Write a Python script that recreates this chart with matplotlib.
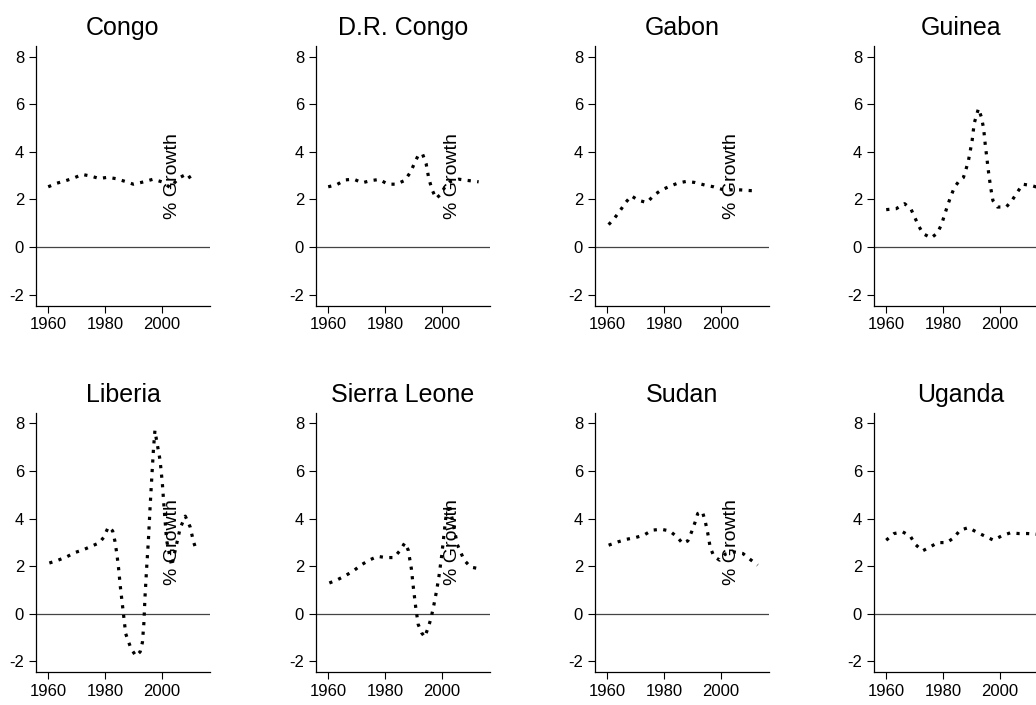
import matplotlib
matplotlib.use('Agg')
import matplotlib.pyplot as plt

plt.rcParams['font.family'] = ['Liberation Sans', 'DejaVu Sans']
plt.rcParams['axes.unicode_minus'] = False

# ------- Data -------
congo_years = [1960, 1963, 1966, 1969, 1972, 1975, 1978, 1981, 1984, 1987, 1990,
               1993, 1997, 2000, 2003, 2006, 2009, 2011]
congo_growth = [2.53, 2.68, 2.78, 2.9, 3.05, 2.98, 2.88, 2.93, 2.87, 2.76, 2.64,
                2.72, 2.85, 2.74, 2.5, 2.9, 3.08, 2.72]

drc_years = [1960, 1963, 1966, 1969, 1972, 1975, 1978, 1981, 1984, 1987, 1989,
             1990.5, 1991.7, 1993.2, 1994.5, 1995.4, 1996.6, 1998, 1999.5, 2001,
             2003, 2006, 2009, 2013]
drc_growth = [2.53, 2.62, 2.82, 2.85, 2.7, 2.79, 2.84, 2.64, 2.64, 2.8, 3.15,
              3.55, 3.85, 3.92, 3.5, 2.9, 2.4, 2.04, 2.2, 2.5,
              2.75, 2.85, 2.8, 2.74]

gabon_years = [1960.5, 1962.5, 1964.5, 1966.5, 1968.5, 1971, 1974, 1976.5, 1979,
               1982, 1985, 1988, 1991, 1994.5, 1997.5, 2000.5, 2004, 2007, 2010.5, 2013]
gabon_growth = [0.94, 1.2, 1.52, 1.87, 2.15, 1.96, 1.87, 2.18, 2.39,
                2.55, 2.69, 2.76, 2.71, 2.6, 2.53, 2.42, 2.4, 2.4, 2.37, 2.37]

guinea_years = [1960, 1963.5, 1966.5, 1968.7, 1970, 1971.5, 1973, 1975.8, 1978,
                1979.5, 1980.5, 1981.5, 1982.6, 1984, 1985.7, 1987.2, 1988.1, 1989,
                1989.7, 1990.3, 1991, 1992.5, 1993.5, 1994.3, 1994.9, 1995.5, 1996.1,
                1996.8, 1997.6, 1999.2, 2002.3, 2004.5, 2006.3, 2008.1, 2011.3, 2013.5]
guinea_growth = [1.57, 1.61, 1.82, 1.6, 1.26, 0.87, 0.56, 0.38, 0.58,
                 0.95, 1.33, 1.7, 2.08, 2.5, 2.78, 2.92, 3.26, 3.65,
                 4.1, 4.5, 5.2, 5.82, 5.47, 5.0, 4.3, 3.7, 3.1,
                 2.5, 1.95, 1.68, 1.68, 1.99, 2.32, 2.64, 2.58, 2.5]

liberia_years = [1960.4, 1963.5, 1966.5, 1969.4, 1972.4, 1975.3, 1978, 1979.5, 1981.2,
                 1982.7, 1983.5, 1984.2, 1984.8, 1985.4, 1986.5, 1987.3, 1988.2, 1989.2,
                 1990.9, 1992.4, 1993.2, 1993.7, 1994.1, 1994.7, 1995.3, 1995.9, 1996.5,
                 1997.1, 1997.6, 1998.2, 1999.4, 2000.2, 2000.8, 2001.7, 2003.5, 2005,
                 2006.5, 2008.3, 2010, 2011.2, 2012.4]
liberia_growth = [2.13, 2.25, 2.39, 2.57, 2.69, 2.84, 2.98, 3.2, 3.65,
                  3.48, 3.05, 2.5, 1.9, 1.15, 0.0, -0.84, -1.15, -1.47,
                  -1.78, -1.6, -1.2, -0.4, 0.7, 1.96, 3.09, 4.49, 5.75,
                  6.95, 7.7, 7.27, 6.46, 5.5, 4.49, 3.1, 2.0, 2.8,
                  3.6, 4.1, 3.65, 3.02, 2.6]

sierra_years = [1960.4, 1963.3, 1966.2, 1968.9, 1971.5, 1974.4, 1977.4, 1980.3, 1983.2,
                1985.4, 1987, 1988.2, 1989.3, 1990, 1990.8, 1991.7, 1992.9, 1994,
                1995.3, 1996.2, 1997.2, 1998.1, 1999, 2000, 2000.8, 2001.4, 2002.6,
                2004, 2005.5, 2007.9, 2010.2, 2013.2]
sierra_growth = [1.29, 1.43, 1.61, 1.8, 2.04, 2.25, 2.41, 2.36, 2.36,
                 2.67, 2.98, 2.67, 1.89, 1.1, 0.3, -0.45, -0.8, -0.98,
                 -0.56, -0.2, 0.35, 0.91, 1.55, 2.46, 3.34, 4.0, 4.6,
                 3.8, 2.9, 2.25, 1.96, 1.89]

sudan_years = [1960.5, 1963.8, 1966.9, 1969.9, 1972.9, 1975.8, 1979, 1982, 1984.6,
               1986.6, 1988.4, 1989.8, 1991, 1991.9, 1993.5, 1994.5, 1995.4, 1996.3,
               1997.6, 1999.6, 2001.5, 2004.5, 2007.8, 2010.5, 2013]
sudan_growth = [2.88, 3.02, 3.13, 3.2, 3.3, 3.51, 3.55, 3.48, 3.23,
                2.95, 3.06, 3.46, 3.86, 4.21, 4.3, 3.9, 3.4, 2.78,
                2.41, 2.25, 2.5, 2.6, 2.53, 2.27, 2.04]

uganda_years = [1960, 1962.8, 1965.8, 1968.5, 1970.2, 1972.8, 1975.5, 1978.2, 1981.4,
                1983.9, 1986, 1989, 1991.7, 1994.6, 1997.8, 2000.5, 2003.7, 2006.6,
                2009.8, 2013]
uganda_growth = [3.09, 3.37, 3.44, 3.26, 2.92, 2.64, 2.81, 2.99, 2.99,
                 3.2, 3.51, 3.62, 3.44, 3.27, 3.09, 3.26, 3.4, 3.37,
                 3.37, 3.34]

countries = ['Congo', 'D.R. Congo', 'Gabon', 'Guinea',
             'Liberia', 'Sierra Leone', 'Sudan', 'Uganda']
all_years = [congo_years, drc_years, gabon_years, guinea_years,
             liberia_years, sierra_years, sudan_years, uganda_years]
all_growth = [congo_growth, drc_growth, gabon_growth, guinea_growth,
              liberia_growth, sierra_growth, sudan_growth, uganda_growth]

# ------- Layout (pixels, figure is 1036x705 at 100 dpi) -------
W, H = 1036, 705
col_left = [36, 316, 595, 874]
row_top = [46, 412.7]
ax_w, ax_h = 174, 259.5

fig = plt.figure(figsize=(W / 100, H / 100), dpi=100)

for i, name in enumerate(countries):
    r, c = divmod(i, 4)
    ax = fig.add_axes([col_left[c] / W, 1 - (row_top[r] + ax_h) / H, ax_w / W, ax_h / H])

    ax.plot(all_years[i], all_growth[i], color='black', lw=2.3,
            linestyle=(0, (1, 2)), zorder=3)
    ax.axhline(0, color='#444444', lw=0.9, zorder=2)

    ax.set_xlim(1955.7, 2017.0)
    ax.set_ylim(-2.46, 8.45)
    ax.set_xticks([1960, 1980, 2000])
    ax.set_yticks([-2, 0, 2, 4, 6, 8])
    ax.tick_params(labelsize=12, length=4.8, width=0.8, pad=3.8, colors='black')
    for s in ['top', 'right']:
        ax.spines[s].set_visible(False)
    for s in ['left', 'bottom']:
        ax.spines[s].set_linewidth(0.9)
    ax.set_title(name, fontsize=18, pad=8)

    # the y title ends up inside the panel in the original
    if c < 3:
        ax.text(0.785, 0.5, '% Growth', transform=ax.transAxes, rotation=90,
                ha='center', va='center', fontsize=14, zorder=4)

fig.savefig('out.png', dpi=100, facecolor='white')
